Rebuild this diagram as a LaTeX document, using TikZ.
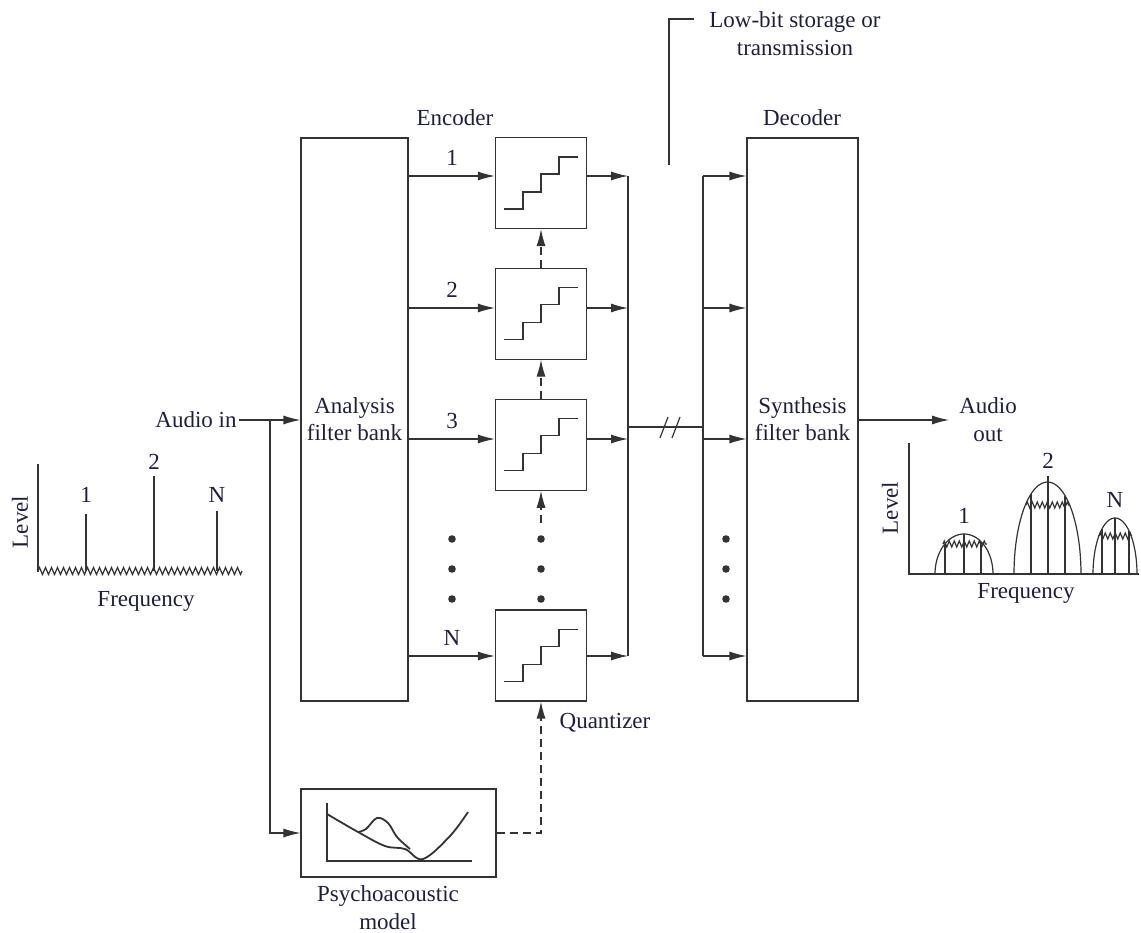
\documentclass[tikz,border=0pt]{standalone}
\usepackage{fontspec}
\setmainfont{Liberation Serif}
\usepackage{tikz}
\usetikzlibrary{arrows.meta, positioning, calc, decorations.pathmorphing}
\definecolor{inkline}{HTML}{333333}
\definecolor{inktext}{HTML}{1f1f3d}
\tikzstyle{bankbox} = [rectangle, draw=inkline, line width=1.1pt, minimum width=107pt, minimum height=563pt,
  align=center, inner sep=0pt, text=inktext, font=\fontsize{23}{27}\selectfont]
\tikzstyle{quantbox} = [rectangle, draw=inkline, line width=1.1pt, minimum width=91pt, minimum height=91pt, inner sep=0pt]
\tikzstyle{txt} = [text=inktext, font=\fontsize{23}{28}\selectfont, align=center, inner sep=2pt]
\tikzstyle{wire} = [line width=1.2pt, draw=inkline]
\tikzstyle{arrow} = [wire, -{Latex[length=17pt,width=9pt]}]
\tikzstyle{dasharrow} = [arrow, dash pattern=on 8pt off 5pt]
\tikzstyle{zz} = [wire, decorate, decoration={zigzag, segment length=6pt, amplitude=3.5pt}]

\begin{document}
\begin{tikzpicture}[x=1pt, y=-1pt]
  \useasboundingbox (0,0) rectangle (1141,933);

  \node (ab) [bankbox] at (354.5,419.5) {Analysis\\filter bank};
  \node (sb) [bankbox, minimum width=111pt] at (802.5,419.5) {Synthesis\\filter bank};
  \node (q1) [quantbox] at (541,183) {};
  \node (q2) [quantbox, below=38.5pt of q1] {};
  \node (q3) [quantbox, below=39pt of q2] {};
  \node (qN) [quantbox] at (541,655.5) {};
  \node (pm) [quantbox, minimum width=195pt, minimum height=88pt] at (398.5,833) {};

  \node (enc) [txt] at (455,118) {Encoder};
  \node (dec) [txt] at (802,118) {Decoder};
  \node (qlbl) [txt] at (605,723) {Quantizer};
  \node (pmlbl) [txt] at (388,908) {Psychoacoustic\\model};
  \node (lowbit) [txt] at (795,34) {Low-bit storage or\\transmission};
  \node (ain) [txt] at (196,420) {Audio in};
  \node (aout) [txt] at (988,420) {Audio\\out};

  \node (n1) [txt] at (452,158) {1};
  \node (n2) [txt] at (452,290) {2};
  \node (n3) [txt] at (452,421) {3};
  \node (nN) [txt] at (452,638) {N};

  \coordinate (eb1) at (628,176);
  \coordinate (eb2) at (628,308);
  \coordinate (eb3) at (628,439);
  \coordinate (ebN) at (628,656);
  \coordinate (ej) at (628,427);
  \coordinate (db1) at (703,176);
  \coordinate (db2) at (703,308);
  \coordinate (db3) at (703,439);
  \coordinate (dbN) at (703,656);
  \coordinate (dj) at (703,427);
  \coordinate (br) at (270,420);
  \coordinate (dq) at (541,523);
  \coordinate (lb) at (669,165);
  \coordinate (lbt) at (694,19);

  \foreach \q in {q1,q2,q3,qN}
    \draw[wire] (\q.center) ++(-37,26) -- ++(19,0) -- ++(0,-17) -- ++(18,0) -- ++(0,-18) -- ++(18,0) -- ++(0,-17) -- ++(19,0);

  \draw[arrow] (ain.east) -- (ab.west |- ain.east);
  \draw[arrow] (br) |- (pm.west);
  \draw[arrow] (ab.east |- eb1) -- (q1.west |- eb1);
  \draw[arrow] (ab.east |- eb2) -- (q2.west |- eb2);
  \draw[arrow] (ab.east |- eb3) -- (q3.west |- eb3);
  \draw[arrow] (ab.east |- ebN) -- (qN.west |- ebN);
  \draw[arrow] (q1.east |- eb1) -- (eb1);
  \draw[arrow] (q2.east |- eb2) -- (eb2);
  \draw[arrow] (q3.east |- eb3) -- (eb3);
  \draw[arrow] (qN.east |- ebN) -- (ebN);
  \draw[wire] (eb1) -- (ebN);
  \draw[wire] (ej) -- (dj);
  \draw[wire] (660,438) -- (668,417);
  \draw[wire] (672,438) -- (680,417);
  \draw[wire] (db1) -- (dbN);
  \draw[arrow] (db1) -- (sb.west |- db1);
  \draw[arrow] (db2) -- (sb.west |- db2);
  \draw[arrow] (db3) -- (sb.west |- db3);
  \draw[arrow] (dbN) -- (sb.west |- dbN);
  \draw[arrow] (sb.east |- br) -- ([xshift=-8pt]aout.west |- br);
  \draw[wire] (lb) |- (lbt);

  \draw[dasharrow] (q2.north) -- (q1.south);
  \draw[dasharrow] (q3.north) -- (q2.south);
  \draw[dasharrow] (dq) -- (q3.south);
  \draw[dasharrow] (pm.east) -| (qN.south);

  \foreach \y in {539,569,599} {
    \fill[inkline] (452,\y) circle (3.8);
    \fill[inkline] (541,\y) circle (3.8);
    \fill[inkline] (726,\y) circle (3.8);
  }

  \draw[wire] (327,803) -- (327,861) -- (472,861);
  \draw[wire, line width=1.8pt] plot[smooth, tension=0.6] coordinates {(327,814) (358,832) (385,846) (405,849) (423,859) (450,836) (468,812)};
  \draw[wire, line width=1.8pt] plot[smooth, tension=0.6] coordinates {(358,832) (366,829) (377,818) (388,823) (397,837) (410,849)};

  \draw[wire] (38,464) -- (38,572);
  \draw[zz] (38,571) -- (242,571);
  \draw[wire] (86,571) -- (86,514);
  \draw[wire] (154,571) -- (154,476);
  \draw[wire] (217,571) -- (217,511);
  \node (l1) [txt] at (86,495) {1};
  \node (l2) [txt] at (154,462) {2};
  \node (lN) [txt] at (217,495) {N};
  \node (lvl) [txt, rotate=90] at (20,522) {Level};
  \node (frq) [txt] at (146,601) {Frequency};

  \draw[wire] (909,443) -- (909,574) -- (1139,574);
  \draw[wire] plot[domain=0:180, samples=50] ({964-29*cos(\x)},{574-40*sin(\x)});
  \draw[wire] plot[domain=0:180, samples=50] ({1047.5-33.5*cos(\x)},{574-92*sin(\x)});
  \draw[wire] plot[domain=0:180, samples=50] ({1115-22*cos(\x)},{574-56*sin(\x)});
  \draw[wire] (945,574) -- (945,544);
  \draw[wire] (964,574) -- (964,534);
  \draw[wire] (981,574) -- (981,542);
  \draw[wire] (1031,574) -- (1031,494);
  \draw[wire] (1048,574) -- (1048,476);
  \draw[wire] (1065,574) -- (1065,496);
  \draw[wire] (1102,574) -- (1102,529);
  \draw[wire] (1115,574) -- (1115,518);
  \draw[wire] (1129,574) -- (1129,531);
  \draw[zz, decoration={segment length=5pt, amplitude=3pt}] (943,544) -- (987,544);
  \draw[zz, decoration={segment length=5pt, amplitude=3pt}] (1026,505) -- (1070,505);
  \draw[zz, decoration={segment length=5pt, amplitude=3pt}] (1099,536) -- (1132,536);
  \node (r1) [txt] at (964,516) {1};
  \node (r2) [txt] at (1048,461) {2};
  \node (rN) [txt] at (1115,500) {N};
  \node (rlvl) [txt, rotate=90] at (890,508) {Level};
  \node (rfrq) [txt] at (1026,593) {Frequency};
\end{tikzpicture}
\end{document}
